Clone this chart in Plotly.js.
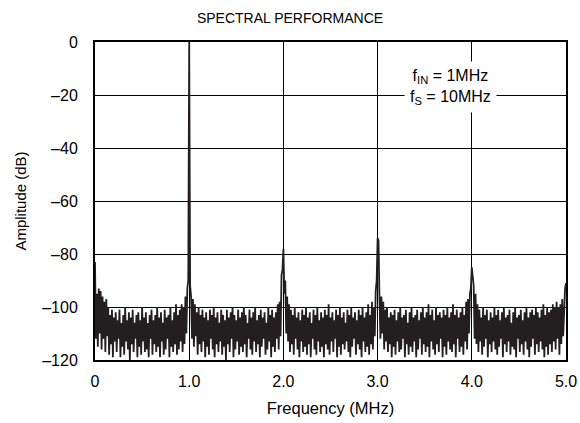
<!DOCTYPE html>
<html>
<head>
<meta charset="utf-8">
<script src="https://cdn.plot.ly/plotly-3.0.1.min.js"></script>
<style>html,body{margin:0;padding:0;background:#fff;}#chart{width:580px;height:423px;}</style>
</head>
<body>
<div id="chart"></div>
<script>
// Frequency step of the spectrum (MHz) and start frequency
var freqStart = 0;
var freqStep = 0.01;

// Amplitude (dB), one value per 0.01 MHz bin from 0 to 5.0 MHz
var amplitudeDb = [
-83,-112,-95,-115,-93,-110,-94,-116,-96,-112,
-98,-117,-97,-111,-100,-118,-103,-114,-101,-119,
-104,-113,-102,-117,-105,-112,-101,-119,-106,-115,
-103,-118,-100,-113,-105,-116,-102,-120,-104,-114,
-101,-117,-106,-112,-103,-119,-102,-115,-105,-118,
-100,-113,-104,-117,-102,-116,-106,-119,-103,-112,
-101,-118,-105,-114,-103,-117,-100,-115,-104,-119,
-102,-113,-106,-118,-101,-116,-104,-112,-103,-119,
-100,-115,-105,-117,-102,-114,-99,-118,-103,-116,
-101,-113,-99,-117,-100,-114,-96,-110,-93,-90,
0,-92,-96,-112,-97,-115,-99,-111,-102,-118,
-100,-114,-103,-117,-101,-113,-104,-119,-102,-115,
-105,-118,-101,-112,-103,-116,-100,-119,-104,-114,
-102,-117,-106,-113,-101,-118,-103,-115,-105,-120,
-101,-114,-104,-117,-102,-112,-100,-119,-103,-116,
-105,-113,-101,-118,-104,-115,-102,-117,-100,-114,
-103,-119,-106,-112,-101,-116,-104,-118,-102,-113,
-100,-117,-105,-114,-103,-119,-101,-115,-104,-112,
-102,-118,-106,-116,-100,-113,-103,-119,-101,-115,
-104,-117,-102,-112,-99,-116,-98,-111,-88,-86,
-78,-95,-90,-110,-96,-113,-99,-117,-101,-114,
-103,-118,-100,-112,-104,-116,-102,-119,-105,-113,
-101,-117,-103,-115,-100,-118,-104,-114,-102,-119,
-106,-112,-101,-116,-103,-118,-100,-113,-105,-117,
-102,-115,-104,-119,-101,-114,-103,-116,-99,-118,
-104,-113,-102,-117,-105,-112,-101,-119,-103,-115,
-100,-118,-104,-114,-102,-116,-106,-113,-101,-117,
-103,-119,-100,-115,-104,-112,-102,-118,-105,-114,
-101,-116,-103,-119,-100,-113,-104,-117,-102,-115,
-99,-118,-103,-114,-98,-116,-100,-111,-94,-90,
-74,-75,-97,-112,-96,-110,-98,-116,-101,-113,
-100,-117,-104,-114,-102,-119,-103,-115,-101,-118,
-105,-113,-102,-117,-100,-116,-104,-112,-103,-119,
-101,-114,-106,-118,-102,-115,-100,-117,-104,-113,
-103,-119,-101,-116,-105,-112,-102,-118,-100,-114,
-104,-117,-102,-115,-99,-119,-103,-113,-101,-116,
-105,-118,-100,-114,-103,-117,-102,-112,-104,-119,
-101,-115,-103,-118,-100,-113,-104,-116,-102,-117,
-99,-114,-103,-119,-101,-112,-104,-117,-102,-115,
-100,-118,-103,-113,-98,-116,-97,-110,-95,-93,
-85,-89,-92,-112,-95,-114,-99,-117,-101,-113,
-104,-118,-100,-115,-103,-112,-101,-119,-105,-114,
-102,-117,-104,-113,-100,-116,-103,-118,-101,-115,
-105,-112,-102,-119,-100,-114,-104,-117,-103,-113,
-101,-118,-106,-115,-102,-116,-100,-119,-104,-112,
-103,-117,-101,-114,-105,-118,-102,-113,-100,-116,
-104,-119,-102,-115,-101,-112,-103,-118,-100,-114,
-102,-117,-104,-113,-101,-116,-99,-119,-103,-115,
-100,-118,-102,-114,-101,-117,-99,-113,-100,-116,
-98,-112,-100,-118,-99,-114,-97,-111,-96,-93,
-91
];

// Tick values and labels
var xTickVals = [0, 1, 2, 3, 4, 5];
var xTickText = ['0', '1.0', '2.0', '3.0', '4.0', '5.0'];
var yTickVals = [0, -20, -40, -60, -80, -100, -120];
var yTickText = ['0', '\u201320', '\u201340', '\u201360', '\u201380', '\u2013100', '\u2013120'];

var FONT = 'Liberation Sans, Arial, Helvetica, sans-serif';

var trace = {
  type: 'scatter',
  mode: 'lines',
  x0: freqStart,
  dx: freqStep,
  y: amplitudeDb,
  line: {color: '#231f20', width: 1.8},
  hoverinfo: 'skip',
  showlegend: false
};

var layout = {
  width: 580,
  height: 423,
  margin: {l: 95, r: 14, t: 42, b: 63},
  paper_bgcolor: '#ffffff',
  plot_bgcolor: '#ffffff',
  font: {family: FONT, size: 15, color: '#000'},
  title: {text: 'SPECTRAL PERFORMANCE', font: {family: FONT, size: 14, color: '#000'}, x: 0.5, xanchor: 'center', y: 0.957, yanchor: 'middle'},
  xaxis: {
    range: [0, 5],
    tickvals: xTickVals,
    ticktext: xTickText,
    showgrid: true,
    gridcolor: '#000',
    gridwidth: 1,
    zeroline: false,
    showline: true,
    linecolor: '#000',
    linewidth: 2,
    mirror: true,
    ticks: '',
    ticklabelstandoff: 6,
    tickfont: {family: FONT, size: 16, color: '#000'},
    title: {text: 'Frequency (MHz)', font: {family: FONT, size: 16.5, color: '#000'}, standoff: 13}
  },
  yaxis: {
    range: [-120, 0],
    tickvals: yTickVals,
    ticktext: yTickText,
    showgrid: true,
    gridcolor: '#000',
    gridwidth: 1,
    zeroline: false,
    showline: true,
    linecolor: '#000',
    linewidth: 2,
    mirror: true,
    ticks: '',
    ticklabelstandoff: 12,
    tickfont: {family: FONT, size: 16, color: '#000'},
    title: {text: 'Amplitude (dB)', font: {family: FONT, size: 15, color: '#000'}, standoff: 12}
  },
  annotations: [{
    xref: 'x', yref: 'y',
    x: 3.77, y: -17,
    text: 'f<sub>IN</sub> = 1MHz<br>f<sub>S</sub> = 10MHz',
    showarrow: false,
    bgcolor: '#ffffff',
    borderpad: 5,
    font: {family: FONT, size: 16, color: '#000'},
    align: 'center'
  }]
};

Plotly.newPlot('chart', [trace], layout, {staticPlot: true, displayModeBar: false});
</script>
</body>
</html>
